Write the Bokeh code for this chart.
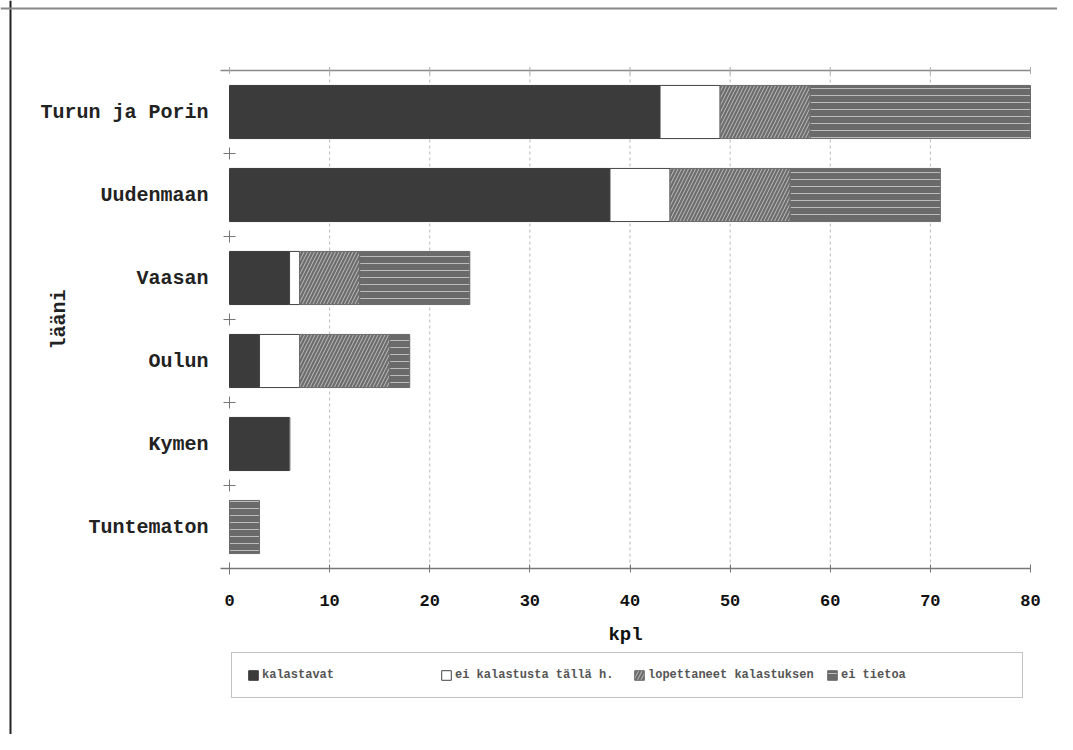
import math
from bokeh.plotting import figure
from bokeh.models import (ColumnDataSource, FixedTicker, Range1d, Legend, LegendItem,
                          LinearAxis, Label, Span)
from bokeh.embed import file_html
from bokeh.resources import INLINE

# ---- data ----
provinces = ["Turun ja Porin", "Uudenmaan", "Vaasan", "Oulun", "Kymen", "Tuntematon"]
kalastavat = [43, 38, 6, 3, 6, 0]
ei_kalastusta = [6, 6, 1, 4, 0, 0]
lopettaneet = [9, 12, 6, 9, 0, 0]
ei_tietoa = [22, 15, 11, 2, 0, 3]
series_labels = ["kalastavat", "ei kalastusta tällä h.", "lopettaneet kalastuksen", "ei tietoa"]
x_ticks = [0, 10, 20, 30, 40, 50, 60, 70, 80]

n = len(provinces)
ypos = [n - i - 0.5 for i in range(n)]
source = ColumnDataSource(dict(y=ypos, k=kalastavat, e=ei_kalastusta,
                               l=lopettaneet, t=ei_tietoa))

FONT = "Liberation Mono"
W, H = 1057, 734
# layout: frame covers the whole canvas; plot area 0..80 spans px 229..1030, 0..6 spans px 568..70
PX_X = (1030 - 229) / 80.0
PX_Y = (568 - 70) / float(n)
x0_px, y0_px = 229, 568

p = figure(width=W, height=H, output_backend="svg", toolbar_location=None,
           x_axis_location=None, y_axis_location=None,
           x_range=Range1d(-x0_px / PX_X, (W - x0_px) / PX_X),
           y_range=Range1d(-(H - y0_px) / PX_Y, (y0_px) / PX_Y),
           min_border_left=0, min_border_right=0, min_border_top=0, min_border_bottom=0)
p.outline_line_color = None
p.background_fill_color = "white"
p.border_fill_color = "white"
p.xgrid.visible = False
p.ygrid.visible = False

# page border (left dark, top grey)
p.add_layout(Span(location=(10 - x0_px) / PX_X, dimension="height", line_color="#222222", line_width=2))
p.add_layout(Span(location=(y0_px - 8) / PX_Y, dimension="width", line_color="#888888", line_width=2))

# vertical dotted grid inside the plot area
grid_ticks = x_ticks[1:-1]
p.segment(x0=grid_ticks, x1=grid_ticks, y0=[0] * len(grid_ticks), y1=[n] * len(grid_ticks),
          line_color="#b8b8b8", line_dash="3 3", line_width=1)

renderers = p.hbar_stack(["k", "e", "l", "t"], y="y", height=0.64, source=source,
                         fill_color=["#3b3b3b", "#ffffff", "#6c6c6c", "#6a6a6a"],
                         line_color=["#3b3b3b", "#444444", "#6c6c6c", "#6a6a6a"],
                         line_width=1,
                         hatch_pattern=[" ", " ", "/", "-"],
                         hatch_color="white", hatch_alpha=0.55,
                         hatch_scale=7, hatch_weight=1)

# top line with small ticks
p.segment(x0=[-0.9], x1=[x_ticks[-1]], y0=[n], y1=[n], line_color="#888888", line_width=1.5)
p.scatter(x=x_ticks, y=[n] * len(x_ticks), marker="dash", angle=math.pi / 2, size=7,
          line_color="#aaaaaa", line_width=1)

# boundary "+" marks on the category axis
bounds = list(range(n))
p.scatter(x=[0] * len(bounds), y=bounds, marker="cross", size=12,
          line_color="#777777", line_width=1)

# x axis at y = 0
xa = LinearAxis(fixed_location=0, bounds=(-0.9, 80))
xa.ticker = FixedTicker(ticks=x_ticks)
xa.axis_line_color = "#777777"
xa.axis_line_width = 1.5
xa.major_tick_line_color = "#777777"
xa.major_tick_in = 4
xa.major_tick_out = 4
xa.minor_tick_line_color = None
xa.major_label_text_font = FONT
xa.major_label_text_font_style = "bold"
xa.major_label_text_font_size = "17px"
xa.major_label_text_color = "#111111"
xa.major_label_standoff = 22
xa.axis_label = "kpl"
xa.axis_label_text_font = FONT
xa.axis_label_text_font_style = "bold"
xa.axis_label_text_font_size = "19px"
xa.axis_label_text_color = "#111111"
xa.axis_label_standoff = 15
p.add_layout(xa, "below")

# y axis at x = 0: category labels
ya = LinearAxis(fixed_location=0, bounds=(0, n))
ya.ticker = FixedTicker(ticks=ypos)
ya.major_label_overrides = {float(y): name for y, name in zip(ypos, provinces)}
ya.axis_line_color = None
ya.major_tick_line_color = None
ya.minor_tick_line_color = None
ya.major_label_text_font = FONT
ya.major_label_text_font_style = "bold"
ya.major_label_text_font_size = "20px"
ya.major_label_text_color = "#222222"
ya.major_label_standoff = 15
p.add_layout(ya, "left")

p.add_layout(Label(x=(59 - x0_px) / PX_X, y=n / 2, text="lääni", angle=math.pi / 2,
                   text_font=FONT, text_font_style="bold", text_font_size="20px",
                   text_color="#222222", text_align="center", text_baseline="middle"))

# legend
items = [LegendItem(label=lab, renderers=[r]) for lab, r in zip(series_labels, renderers)]
legend = Legend(items=items, orientation="horizontal", location=(231, H - 698),
                glyph_width=12, glyph_height=12, label_standoff=3, label_width=166,
                label_height=13, spacing=12, padding=15, margin=0,
                label_text_font=FONT, label_text_font_style="bold",
                label_text_font_size="12px", label_text_color="#555555",
                border_line_color="#888888", border_line_width=1,
                background_fill_color="white")
p.add_layout(legend, "center")

open("out.html", "w").write(file_html(p, INLINE))
